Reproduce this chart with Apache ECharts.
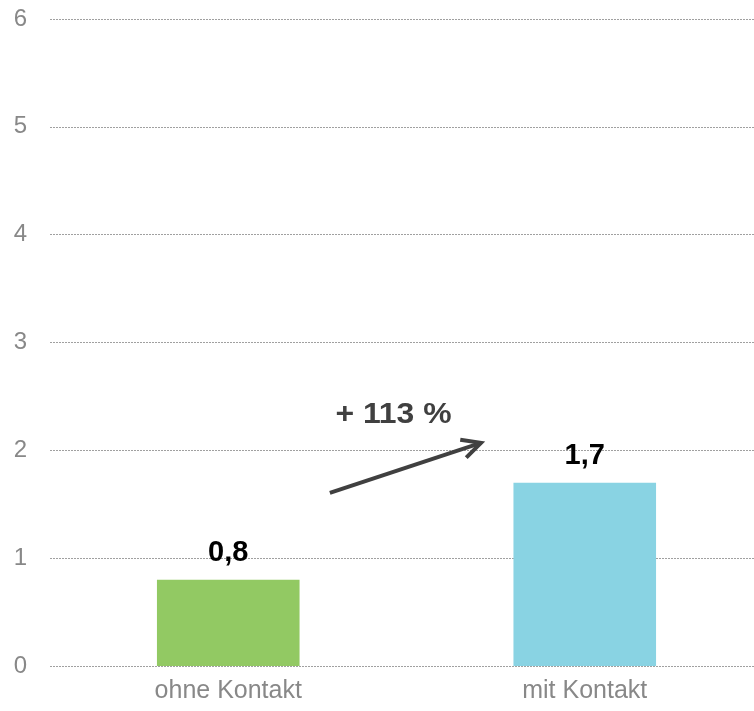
<!DOCTYPE html>
<html><head><meta charset="utf-8">
<script src="https://cdn.jsdelivr.net/npm/echarts@6/dist/echarts.min.js"></script>
<style>html,body{margin:0;padding:0;background:#fff}#c{width:754px;height:711px}</style>
</head><body><div id="c"></div>
<script>
const categories = ['ohne Kontakt', 'mit Kontakt'];
const values = [0.8, 1.7];
const barColors = ['#92c963', '#89d3e3'];
const annotationText = '+ 113 %';

const chart = echarts.init(document.getElementById('c'), null, {renderer: 'canvas'});
const font = 'Liberation Sans, Arial, sans-serif';
chart.setOption({
  animation: false,
  grid: {left: 50, width: 713, top: 19, bottom: 45, outerBoundsMode: 'none', containLabel: false},
  xAxis: {
    type: 'category', data: categories,
    axisLine: {show: false}, axisTick: {show: false},
    axisLabel: {color: '#888888', fontSize: 25, fontFamily: font, margin: 13}
  },
  yAxis: {
    type: 'value', min: 0, max: 6, interval: 1,
    axisLine: {show: false}, axisTick: {show: false},
    axisLabel: {color: '#888888', fontSize: 24, fontFamily: font, margin: 23},
    splitLine: {lineStyle: {color: '#a0a0a0', type: [2, 1], width: 1}}
  },
  series: [{
    type: 'bar', barWidth: '40%',
    data: values.map((v, i) => ({value: v, itemStyle: {color: barColors[i]}})),
    label: {
      show: true, position: 'top', distance: 12,
      formatter: p => String(p.value).replace('.', ','),
      color: '#000', fontWeight: 'bold', fontSize: 29, fontFamily: font
    }
  }]
});

// arrow annotation, anchored between the two bars
const p0 = chart.convertToPixel({xAxisIndex: 0, yAxisIndex: 0}, [0, values[0]]);
const p1 = chart.convertToPixel({xAxisIndex: 0, yAxisIndex: 0}, [1, values[1]]);
const band = p1[0] - p0[0];
const x1 = p0[0] + band * 0.285, y1 = chart.convertToPixel({yAxisIndex: 0}, 1.605);
const x2 = p0[0] + band * 0.709, y2 = chart.convertToPixel({yAxisIndex: 0}, 2.07);
const ang = Math.atan2(y2 - y1, x2 - x1);
const h = 21, spread = 0.47;
chart.setOption({
  graphic: [
    {type: 'line', shape: {x1: x1, y1: y1, x2: x2, y2: y2}, style: {stroke: '#404040', lineWidth: 4}},
    {type: 'polyline', shape: {points: [
      [x2 - h * Math.cos(ang - spread), y2 - h * Math.sin(ang - spread)],
      [x2, y2],
      [x2 - h * Math.cos(ang + spread), y2 - h * Math.sin(ang + spread)]
    ]}, style: {stroke: '#404040', lineWidth: 4, fill: null, lineJoin: 'miter'}},
    {type: 'text', x: p0[0] + band * 0.4635, y: chart.convertToPixel({yAxisIndex: 0}, 2.33),
     scaleX: 1.1,
     style: {text: annotationText, fill: '#404040', font: 'bold 29px ' + font, textAlign: 'center', textVerticalAlign: 'middle'}}
  ]
});
</script></body></html>
